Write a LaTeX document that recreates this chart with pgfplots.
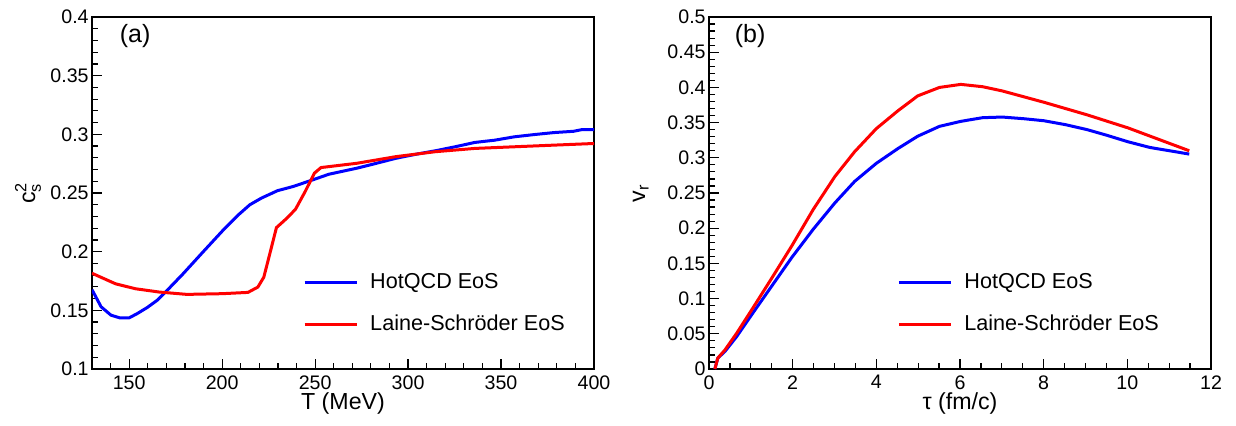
\documentclass[border=0pt]{standalone}
\usepackage{pgfplots}
\pgfplotsset{compat=1.18}
\usepackage{amsmath}
\usepackage{fontspec}
\setmainfont{Liberation Sans}

\pgfplotstableread{
T cs
130 0.1676
134.9 0.1530
140.2 0.1459
144.9 0.1436
150 0.1436
154.4 0.1473
159.7 0.1524
165 0.1585
170.4 0.1670
178.9 0.1810
189.5 0.1994
200.1 0.2176
208.6 0.2312
214.9 0.2400
221.3 0.2458
229.8 0.2520
238.3 0.2556
248.9 0.2613
257.4 0.2660
272.3 0.2711
282.9 0.2753
293.5 0.2796
304.1 0.2830
314.7 0.2860
325.3 0.2894
335.9 0.2931
346.5 0.2950
357.2 0.2979
367.8 0.2998
378.4 0.3015
389 0.3026
393.4 0.3040
400 0.3040
}\hotqcdcs

\pgfplotstableread{
T cs
130 0.1816
142.7 0.1726
153.4 0.1684
166.1 0.1656
181 0.1636
200.1 0.1642
213.9 0.1653
219.2 0.1698
222.4 0.1782
225.6 0.1980
229.2 0.2205
234.1 0.2275
239.4 0.2360
244.7 0.2514
249.6 0.2669
253.2 0.2717
272.3 0.2753
293.5 0.2810
314.7 0.2852
335.9 0.2880
357.2 0.2894
378.4 0.2908
400 0.2922
}\lainecs

\pgfplotstableread{
tau vr
0.14 0
0.21 0.0155
0.38 0.0249
0.66 0.0460
1.04 0.0788
1.51 0.1187
1.98 0.1585
2.49 0.1984
3.01 0.2360
3.48 0.2664
4.0 0.2922
4.52 0.3133
4.99 0.3307
5.51 0.3447
6.02 0.3518
6.54 0.3570
7.01 0.3579
7.53 0.3555
8.0 0.3527
8.52 0.3471
9.04 0.3400
9.51 0.3320
10.02 0.3227
10.54 0.3147
11.48 0.3053
}\hotqcdvr

\pgfplotstableread{
tau vr
0.14 0
0.21 0.0155
0.38 0.0270
0.66 0.0507
1.04 0.0858
1.51 0.1300
1.98 0.1750
2.49 0.2265
3.01 0.2735
3.48 0.3086
4.0 0.3415
4.52 0.3670
4.99 0.3880
5.51 0.4000
6.02 0.4043
6.54 0.4010
7.01 0.3950
8.0 0.3790
9.04 0.3610
10.02 0.3424
11.48 0.3100
}\lainevr

\pgfplotsset{
  rootstyle/.style={
    scale only axis,
    width=251pt, height=176pt,
    axis line style={line width=0.6pt},
    tick align=inside,
    tick pos=left,
    major tick length=5pt,
    minor tick length=3pt,
    every tick/.style={black, line width=0.6pt},
    tick label style={font=\fontsize{9.8}{11}\selectfont},
    yticklabel style={inner sep=1.5pt},
    xticklabel style={inner sep=3pt},
    /pgf/number format/.cd, fixed, precision=2, assume math mode=true,
    /pgfplots/.cd,
    label style={font=\fontsize{11.6}{13}\selectfont},
    legend style={draw=none, fill=none, inner sep=0pt,
      font=\fontsize{10.8}{12}\selectfont,
      row sep=11pt,
      nodes={inner sep=0pt, text height=7.6pt, text depth=2.4pt},
      /tikz/every odd column/.append style={column sep=6pt}},
    legend cell align=left,
    legend image code/.code={\draw[#1] (0pt,0pt) -- (26pt,0pt);},
  }
}

\begin{document}
\begin{tikzpicture}
\path[use as bounding box] (0,0) rectangle (618pt,212.5pt);

\begin{axis}[rootstyle,
  at={(46pt,28pt)}, anchor=south west,
  xmin=130, xmax=400, ymin=0.1, ymax=0.4,
  xtick={150,200,250,300,350,400},
  minor xtick={140,160,170,180,190,210,220,230,240,260,270,280,290,310,320,330,340,360,370,380,390},
  ytick={0.1,0.15,0.2,0.25,0.3,0.35,0.4},
  minor ytick={0.11,0.12,0.13,0.14,0.16,0.17,0.18,0.19,0.21,0.22,0.23,0.24,0.26,0.27,0.28,0.29,0.31,0.32,0.33,0.34,0.36,0.37,0.38,0.39},
  xlabel={T (MeV)},
  ylabel={c$_{\text{s}}^{\text{2}}$},
  xlabel style={at={(axis description cs:0.5,-0.097)}, anchor=center},
  ylabel style={at={(axis description cs:-0.1135,0.5)}, anchor=base},
  legend style={at={(axis description cs:0.42,0.185)}, anchor=west},
]
\addplot[blue, line width=1.5pt] table[x=T, y=cs] {\hotqcdcs};
\addlegendentry{HotQCD EoS}
\addplot[red, line width=1.5pt] table[x=T, y=cs] {\lainecs};
\addlegendentry{Laine-Schröder EoS}
\node[font=\fontsize{12.5}{14}\selectfont, anchor=center] at (axis description cs:0.086,0.947) {(a)};
\end{axis}

\begin{axis}[rootstyle,
  at={(354.5pt,28pt)}, anchor=south west,
  xmin=0, xmax=12, ymin=0, ymax=0.5,
  xtick={0,2,4,6,8,10,12},
  minor xtick={0.5,1,1.5,2.5,3,3.5,4.5,5,5.5,6.5,7,7.5,8.5,9,9.5,10.5,11,11.5},
  ytick={0,0.05,0.1,0.15,0.2,0.25,0.3,0.35,0.4,0.45,0.5},
  minor tick num=4,
  xlabel={τ (fm/c)},
  ylabel={v$_{\text{r}}$},
  xlabel style={at={(axis description cs:0.5,-0.097)}, anchor=center},
  ylabel style={at={(axis description cs:-0.1275,0.5)}, anchor=base},
  legend style={at={(axis description cs:0.3745,0.185)}, anchor=west},
]
\addplot[blue, line width=1.5pt] table[x=tau, y=vr] {\hotqcdvr};
\addlegendentry{HotQCD EoS}
\addplot[red, line width=1.5pt] table[x=tau, y=vr] {\lainevr};
\addlegendentry{Laine-Schröder EoS}
\node[font=\fontsize{12.5}{14}\selectfont, anchor=center] at (axis description cs:0.082,0.947) {(b)};
\end{axis}
\end{tikzpicture}
\end{document}
